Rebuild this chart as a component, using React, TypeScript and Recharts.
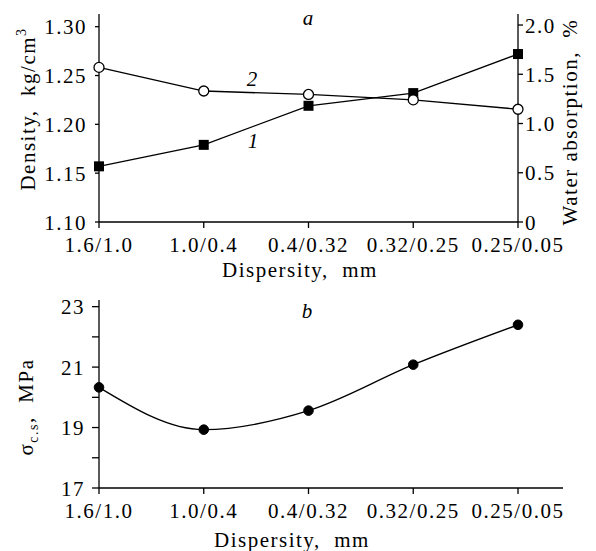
import React from 'react';
import { LineChart, Line, XAxis, YAxis, Customized } from 'recharts';

const categories = ['1.6/1.0', '1.0/0.4', '0.4/0.32', '0.32/0.25', '0.25/0.05'];
const density = [1.157, 1.179, 1.219, 1.232, 1.272];
const waterAbsorption = [1.57, 1.33, 1.295, 1.24, 1.145];
const strength = [20.33, 18.93, 19.56, 21.08, 22.4];
const densityTicks = [1.1, 1.15, 1.2, 1.25, 1.3];
const waterTicks = [0, 0.5, 1.0, 1.5, 2.0];
const strengthTicks = [17, 18, 19, 20, 21, 22, 23];
const strengthLabelled = [17, 19, 21, 23];

const topData = categories.map((c, i) => ({ category: c, density: density[i], water: waterAbsorption[i] }));
const bottomData = categories.map((c, i) => ({ category: c, strength: strength[i] }));

const FONT = 'Liberation Serif';
const FS = 21;
const LS = 1.5;

const T = (props: any) => (
  <text fill="#000" fontFamily={FONT} fontSize={FS} letterSpacing={LS} {...props} />
);

const XTick = (props: any) => {
  const { x, y, payload } = props;
  return (
    <T x={x} y={y} dy="0.71em" textAnchor="middle">
      {payload.value}
    </T>
  );
};

const makeYTick = (anchor: 'start' | 'end', fmt: (v: number) => string) => (props: any) => {
  const { x, y, payload } = props;
  return (
    <T x={x} y={y} dy="0.36em" textAnchor={anchor}>
      {fmt(payload.value)}
    </T>
  );
};

const LeftTopTick = makeYTick('end', (v) => v.toFixed(2));
const RightTopTick = makeYTick('start', (v) => (v === 0 ? '0' : v.toFixed(1)));
const LeftBottomTick = makeYTick('end', (v) => (strengthLabelled.includes(v) ? String(v) : ''));

const SquareDot = (props: any) => {
  const { cx, cy, index } = props;
  if (cx == null || cy == null) return <g key={`sq-${index}`} />;
  return <rect key={`sq-${index}`} x={cx - 5} y={cy - 5} width={10} height={10} fill="#000" />;
};

const TopAnnotations = () => (
  <g>
    <T x={308} y={25} textAnchor="middle" fontStyle="italic" letterSpacing={0}>a</T>
    <T x={252} y={86} textAnchor="middle" fontStyle="italic" letterSpacing={0}>2</T>
    <T x={253} y={148} textAnchor="middle" fontStyle="italic" letterSpacing={0}>1</T>
    <T x={300} y={277} textAnchor="middle">Dispersity,{'\u00a0\u00a0'}mm</T>
    <T transform="translate(35,109) rotate(-90)" textAnchor="middle">
      Density,{'\u00a0\u00a0'}kg/cm<tspan dy={-9} fontSize={14}>3</tspan>
    </T>
    <T transform="translate(577,122) rotate(-90)" textAnchor="middle">
      Water absorption,{'\u00a0\u00a0'}%
    </T>
  </g>
);

const BottomAnnotations = () => (
  <g>
    <T x={307} y={33} textAnchor="middle" fontStyle="italic" letterSpacing={0}>b</T>
    <T x={292} y={262} textAnchor="middle">Dispersity,{'\u00a0\u00a0'}mm</T>
    <T transform="translate(33,122) rotate(-90)" textAnchor="middle">
      σ<tspan dy={5} fontSize={14}>c.s</tspan><tspan dy={-5}>,{'\u00a0\u00a0'}MPa</tspan>
    </T>
  </g>
);

export default function App() {
  return (
    <div style={{ position: 'absolute', left: 0, top: 0, width: 596, height: 551, background: '#fff' }}>
      <div style={{ position: 'absolute', left: 0, top: 0 }}>
        <LineChart width={596} height={285} data={topData} margin={{ top: 14, right: 0, bottom: 0, left: 0 }}>
          <XAxis
            dataKey="category"
            height={63}
            interval={0}
            tickSize={6}
            tickMargin={9}
            stroke="#000"
            strokeWidth={1.3}
            tick={<XTick />}
          />
          <YAxis
            yAxisId="left"
            width={99}
            domain={[1.1, 1.313]}
            ticks={densityTicks}
            interval={0}
            allowDataOverflow
            tickSize={4}
            tickMargin={8}
            stroke="#000"
            strokeWidth={1.3}
            tick={<LeftTopTick />}
          />
          <YAxis
            yAxisId="right"
            orientation="right"
            width={78}
            domain={[0, 2.112]}
            ticks={waterTicks}
            interval={0}
            allowDataOverflow
            tickSize={5}
            tickMargin={2}
            stroke="#000"
            strokeWidth={1.3}
            tick={<RightTopTick />}
          />
          <Line
            yAxisId="left"
            dataKey="density"
            type="linear"
            stroke="#000"
            strokeWidth={1.3}
            dot={SquareDot}
            isAnimationActive={false}
          />
          <Line
            yAxisId="right"
            dataKey="water"
            type="linear"
            stroke="#000"
            strokeWidth={1.3}
            dot={{ r: 5, fill: '#fff', stroke: '#000', strokeWidth: 1.3 }}
            isAnimationActive={false}
          />
          <Customized component={<TopAnnotations />} />
        </LineChart>
      </div>
      <div style={{ position: 'absolute', left: 0, top: 285 }}>
        <LineChart width={596} height={266} data={bottomData} margin={{ top: 15, right: 33, bottom: 0, left: 0 }}>
          <XAxis
            dataKey="category"
            height={63}
            interval={0}
            padding={{ left: 0, right: 45 }}
            tickSize={6}
            tickMargin={9}
            stroke="#000"
            strokeWidth={1.3}
            tick={<XTick />}
          />
          <YAxis
            width={99}
            domain={[17, 23.22]}
            ticks={strengthTicks}
            interval={0}
            allowDataOverflow
            tickSize={7}
            tickMargin={7}
            stroke="#000"
            strokeWidth={1.3}
            tick={<LeftBottomTick />}
          />
          <Line
            dataKey="strength"
            type="monotone"
            stroke="#000"
            strokeWidth={1.3}
            dot={{ r: 4.8, fill: '#000', stroke: '#000', strokeWidth: 1 }}
            isAnimationActive={false}
          />
          <Customized component={<BottomAnnotations />} />
        </LineChart>
      </div>
    </div>
  );
}
